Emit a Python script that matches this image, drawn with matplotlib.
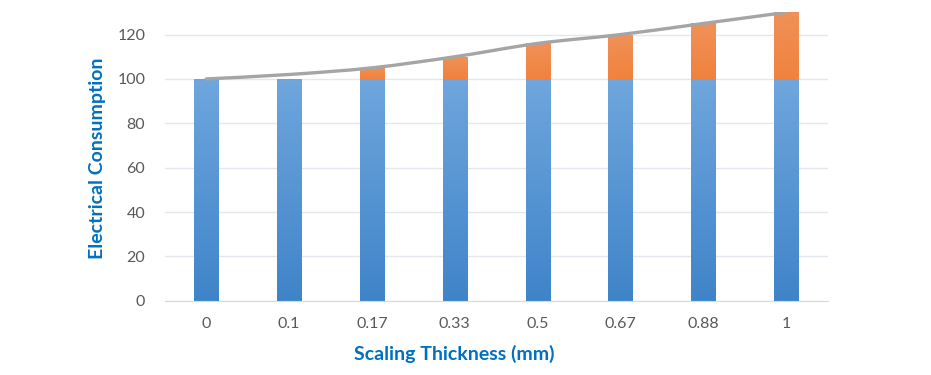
import numpy as np
import matplotlib.pyplot as plt
from matplotlib.path import Path
from matplotlib.patches import PathPatch

# Dados
thickness = ['0', '0.1', '0.17', '0.33', '0.5', '0.67', '0.88', '1']
base = [100, 100, 100, 100, 100, 100, 100, 100]
extra = [0, 0, 5, 10, 16, 20, 25, 30]
total = [100, 102, 105, 110, 116, 120, 125, 130]

fig = plt.figure(figsize=(9.31, 3.75), dpi=100)
ax = fig.add_axes([0.177, 0.198, 0.712, 0.769])

x = np.arange(len(thickness))
w = 0.29

def gradient_bars(bars, top_color, bottom_color):
    # preenche cada barra com um degradê vertical
    c1 = np.array(plt.matplotlib.colors.to_rgb(top_color))
    c2 = np.array(plt.matplotlib.colors.to_rgb(bottom_color))
    grad = np.linspace(0, 1, 256)[:, None]
    img = c1 * (1 - grad[..., None]) + c2 * grad[..., None]
    for b in bars:
        if b.get_height() <= 0:
            continue
        x0, y0 = b.get_x(), b.get_y()
        im = ax.imshow(img, extent=[x0, x0 + b.get_width(), y0, y0 + b.get_height()],
                       origin='upper', aspect='auto', zorder=2)
        im.set_clip_path(b)
        b.set_facecolor('none')

b1 = ax.bar(x, base, w, color='#5b9bd5', linewidth=0, zorder=2)
gradient_bars(b1, '#6fa6dd', '#3f84c9')
b2 = ax.bar(x, extra, w, bottom=base, color='#ed7d31', linewidth=0, zorder=2)
gradient_bars(b2, '#f09158', '#f0823e')

# Linha suavizada (Catmull-Rom -> Bézier)
pts = np.column_stack([x, total]).astype(float)
verts = [pts[0]]
codes = [Path.MOVETO]
for i in range(len(pts) - 1):
    p0 = pts[i - 1] if i > 0 else pts[i]
    p1, p2 = pts[i], pts[i + 1]
    p3 = pts[i + 2] if i + 2 < len(pts) else pts[i + 1]
    verts += [p1 + (p2 - p0) / 6, p2 - (p3 - p1) / 6, p2]
    codes += [Path.CURVE4] * 3
ax.add_patch(PathPatch(Path(verts, codes), fill=False, edgecolor='#a5a5a5',
                       linewidth=2.4, zorder=3, capstyle='round'))

ax.set_xlim(-0.5, len(thickness) - 0.5)
ax.set_ylim(0, 130)
ax.set_yticks([0, 20, 40, 60, 80, 100, 120])
ax.set_xticks(x)
ax.set_xticklabels(thickness)

ax.grid(axis='y', color='#e3e8ee', linewidth=1, zorder=0)
ax.set_axisbelow(True)
for s in ['top', 'right', 'left']:
    ax.spines[s].set_visible(False)
ax.spines['bottom'].set_color('#d9d9d9')
ax.tick_params(length=0, labelsize=11.5, labelcolor='#595959', pad=14)
ax.tick_params(axis='x', pad=12)
for lab in ax.get_xticklabels() + ax.get_yticklabels():
    lab.set_family('Lato')

# títulos dos eixos
fig.text(0.488, 0.056, 'Scaling Thickness (mm)', fontsize=14, fontweight='bold',
         color='#0070c0', family='Lato', ha='center', va='center')
fig.text(0.105, 0.579, 'Electrical Consumption', fontsize=14, fontweight='bold',
         color='#0070c0', family='Lato', ha='center', va='center', rotation=90)

fig.savefig('out.png', dpi=100)
